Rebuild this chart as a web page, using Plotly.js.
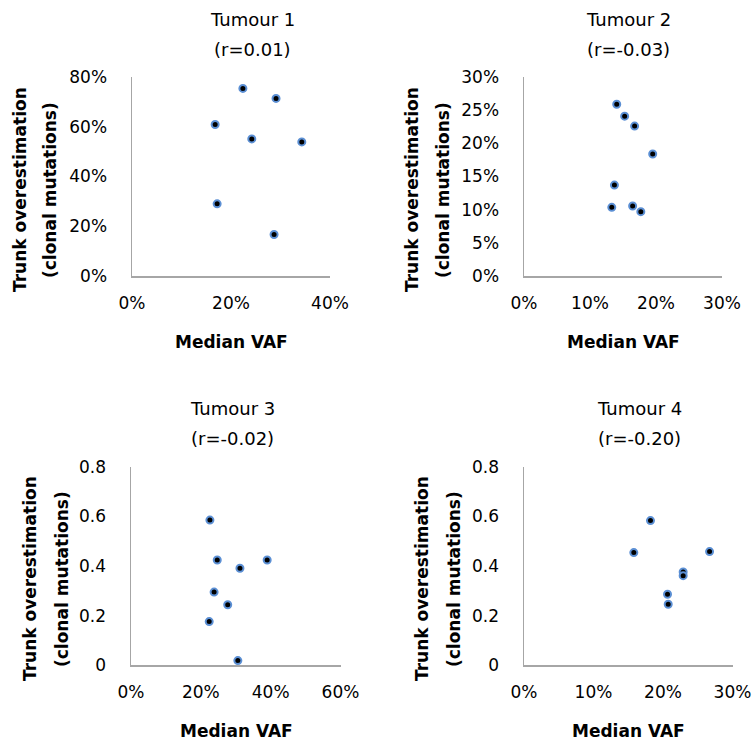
<!DOCTYPE html>
<html>
<head>
<meta charset="utf-8">
<script src="https://cdn.plot.ly/plotly-3.0.1.min.js"></script>
<style>
  html, body { margin: 0; padding: 0; background: #ffffff; }
  #chart { width: 756px; height: 749px; }
</style>
</head>
<body>
<div id="chart"></div>
<script>
// Median VAF (x) vs trunk overestimation of clonal mutations (y), one panel per tumour
const tumourNames = ['Tumour 1', 'Tumour 2', 'Tumour 3', 'Tumour 4'];
const rValues = ['0.01', '-0.03', '-0.02', '-0.20'];

const t1Vaf = [0.224, 0.291, 0.168, 0.242, 0.343, 0.172, 0.287];
const t1Over = [0.754, 0.714, 0.609, 0.551, 0.539, 0.290, 0.167];

const t2Vaf = [0.1405, 0.1525, 0.1676, 0.195, 0.137, 0.133, 0.1646, 0.177];
const t2Over = [0.259, 0.241, 0.226, 0.184, 0.137, 0.1035, 0.1055, 0.097];

const t3Vaf = [0.226, 0.247, 0.312, 0.390, 0.238, 0.277, 0.224, 0.306];
const t3Over = [0.585, 0.424, 0.391, 0.424, 0.295, 0.244, 0.176, 0.019];

const t4Vaf = [0.182, 0.158, 0.267, 0.229, 0.229, 0.2065, 0.2075];
const t4Over = [0.583, 0.454, 0.458, 0.376, 0.361, 0.286, 0.246];

const xRanges = [[0, 0.4], [0, 0.3], [0, 0.6], [0, 0.3]];
const xSteps = [0.2, 0.1, 0.2, 0.1];
const yRanges = [[0, 0.8], [0, 0.3], [0, 0.8], [0, 0.8]];
const ySteps = [0.2, 0.05, 0.2, 0.2];
const yFormats = ['.0%', '.0%', '', ''];

const xTitle = 'Median VAF';
const yTitleLines = ['Trunk overestimation', '(clonal mutations)'];

const W = 756, H = 749;
const FONT = 'DejaVu Sans, Open Sans, sans-serif';

// plot-area boxes in pixels: [left, right, top, bottom]
const boxes = [
  [132, 330, 77, 276],
  [524, 722, 77, 276],
  [131, 340.5, 466.7, 665.3],
  [524, 732.5, 466.7, 665.3]
];
// text anchor positions in pixels
const titlePos = [[252, 20, 49], [628, 20, 49], [232.5, 408, 438], [639, 408, 438]];
const yTitleX = [[20, 50], [412, 443], [30, 62], [422, 454]];
const yTitleY = [190, 190, 579, 579];
const xTitlePos = [[231, 342], [623, 342], [236, 731], [628, 731]];

const px = v => v / W;
const py = v => 1 - v / H;

const series = [[t1Vaf, t1Over], [t2Vaf, t2Over], [t3Vaf, t3Over], [t4Vaf, t4Over]];

const traces = series.map((s, i) => ({
  type: 'scatter',
  mode: 'markers',
  x: s[0],
  y: s[1],
  xaxis: i === 0 ? 'x' : 'x' + (i + 1),
  yaxis: i === 0 ? 'y' : 'y' + (i + 1),
  marker: { size: 7, color: '#000000', line: { color: '#5b8fd4', width: 2 } },
  hoverinfo: 'x+y',
  cliponaxis: false,
  showlegend: false
}));

const layout = {
  width: W,
  height: H,
  margin: { l: 0, r: 0, t: 0, b: 0 },
  paper_bgcolor: '#ffffff',
  plot_bgcolor: '#ffffff',
  font: { family: FONT, size: 17, color: '#000000' },
  showlegend: false,
  annotations: []
};

boxes.forEach((b, i) => {
  const sx = i === 0 ? '' : String(i + 1);
  layout['xaxis' + sx] = {
    domain: [px(b[0]), px(b[1])],
    anchor: 'y' + sx,
    range: xRanges[i],
    dtick: xSteps[i],
    tick0: 0,
    tickformat: '.0%',
    showgrid: false,
    zeroline: false,
    showline: true,
    linecolor: '#a6a6a6',
    linewidth: 1.5,
    ticks: '',
    ticklabelstandoff: 11,
    tickfont: { family: FONT, size: 17, color: '#000000' },
    fixedrange: true
  };
  layout['yaxis' + sx] = {
    domain: [py(b[3]), py(b[2])],
    anchor: 'x' + sx,
    range: yRanges[i],
    dtick: ySteps[i],
    tick0: 0,
    tickformat: yFormats[i],
    showgrid: false,
    zeroline: false,
    showline: true,
    linecolor: '#a6a6a6',
    linewidth: 1.5,
    ticks: '',
    ticklabelstandoff: 20,
    tickfont: { family: FONT, size: 17, color: '#000000' },
    fixedrange: true
  };

  const ann = layout.annotations;
  const base = { xref: 'paper', yref: 'paper', showarrow: false, xanchor: 'center', yanchor: 'middle' };
  ann.push(Object.assign({}, base, {
    x: px(titlePos[i][0]), y: py(titlePos[i][1]),
    text: tumourNames[i], font: { family: FONT, size: 18, color: '#000000' }
  }));
  ann.push(Object.assign({}, base, {
    x: px(titlePos[i][0]), y: py(titlePos[i][2]),
    text: '(r=' + rValues[i] + ')', font: { family: FONT, size: 18, color: '#000000' }
  }));
  yTitleLines.forEach((line, k) => {
    ann.push(Object.assign({}, base, {
      x: px(yTitleX[i][k]), y: py(yTitleY[i]), textangle: -90,
      text: '<b>' + line + '</b>', font: { family: FONT, size: 17, color: '#000000' }
    }));
  });
  ann.push(Object.assign({}, base, {
    x: px(xTitlePos[i][0]), y: py(xTitlePos[i][1]),
    text: '<b>' + xTitle + '</b>', font: { family: FONT, size: 17, color: '#000000' }
  }));
});

Plotly.newPlot('chart', traces, layout, { displayModeBar: false, staticPlot: true });
</script>
</body>
</html>
